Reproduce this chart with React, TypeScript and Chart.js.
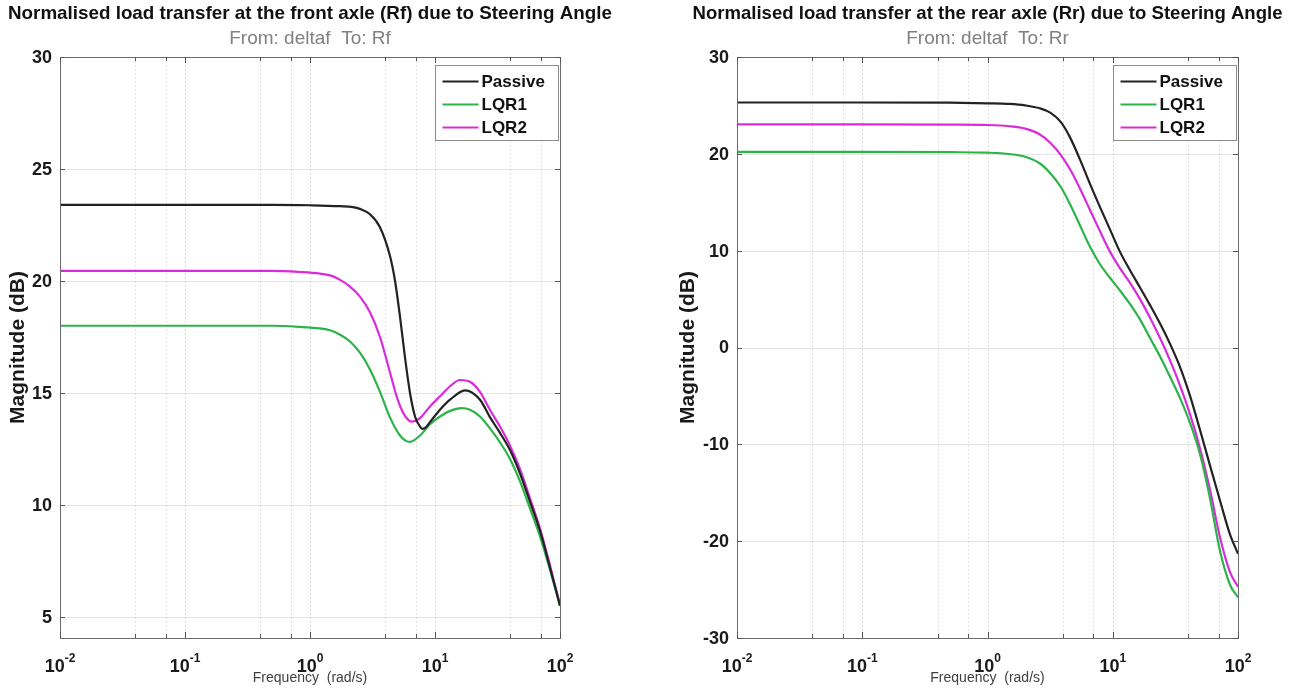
import React, { useEffect, useRef } from "react";
import { Chart, registerables } from "chart.js";

Chart.register(...registerables);

const FONT = '"Liberation Sans", Arial, Helvetica, sans-serif';

const seriesNames = ["Passive", "LQR1", "LQR2"];
const seriesColors = ["#222222", "#2cb34a", "#d92cd9"];

// Front axle (Rf)
const frontPassiveFreq = [0.01, 0.1, 0.5, 1.0, 1.74, 2.21, 2.51, 3.02, 3.63, 4.37, 4.79, 5.25, 5.75, 6.31, 6.92, 7.59, 7.9, 8.4, 9.12, 10.96, 13.2, 17.4, 22.9, 27.5, 33.1, 39.8, 47.9, 57.5, 69.2, 83.2, 100];
const frontPassiveMag = [23.4, 23.4, 23.4, 23.38, 23.34, 23.3, 23.22, 22.98, 22.4, 21.1, 20.0, 18.4, 16.6, 15.0, 13.95, 13.5, 13.4, 13.45, 13.7, 14.25, 14.7, 15.12, 14.7, 13.92, 13.22, 12.45, 11.4, 10.15, 8.85, 7.2, 5.5];
const frontLqr1Freq = [0.01, 0.1, 0.5, 0.83, 1.2, 1.45, 1.74, 2.09, 2.51, 3.02, 3.63, 4.37, 5.25, 5.9, 6.31, 7.59, 9.12, 10.96, 13.2, 16.3, 19.05, 22.9, 27.5, 33.1, 39.8, 47.9, 57.5, 69.2, 83.2, 100];
const frontLqr1Mag = [18.0, 18.0, 18.0, 17.95, 17.88, 17.8, 17.6, 17.3, 16.8, 16.05, 15.05, 13.9, 13.1, 12.85, 12.82, 13.1, 13.6, 13.95, 14.2, 14.32, 14.25, 13.95, 13.42, 12.8, 12.05, 11.05, 9.85, 8.6, 7.1, 5.5];
const frontLqr2Freq = [0.01, 0.1, 0.5, 0.83, 1.2, 1.45, 1.74, 2.09, 2.51, 3.02, 3.63, 4.37, 4.94, 5.58, 6.5, 7.59, 9.12, 10.96, 13.2, 15.85, 19.05, 22.9, 27.5, 33.1, 39.8, 47.9, 57.5, 69.2, 83.2, 100];
const frontLqr2Mag = [20.45, 20.45, 20.45, 20.4, 20.33, 20.25, 20.05, 19.75, 19.3, 18.6, 17.5, 15.9, 14.84, 14.1, 13.72, 13.88, 14.4, 14.85, 15.3, 15.58, 15.5, 15.05, 14.25, 13.5, 12.65, 11.6, 10.3, 8.95, 7.3, 5.55];

// Rear axle (Rr)
const rearFreq = [0.01, 0.1, 0.5, 1.0, 1.5, 2.0, 2.62, 3.17, 3.84, 4.56, 5.48, 6.58, 7.91, 9.5, 11.4, 13.7, 16.5, 19.8, 23.8, 28.6, 34.4, 41.4, 49.7, 59.8, 71.8, 86.3, 100];
const rearPassiveMag = [25.3, 25.3, 25.28, 25.22, 25.15, 25.0, 24.7, 24.25, 23.3, 21.7, 19.4, 16.9, 14.5, 12.2, 9.9, 8.0, 6.2, 4.4, 2.5, 0.4, -2.0, -5.0, -8.5, -12.2, -15.8, -19.3, -21.3];
const rearLqr1Mag = [20.2, 20.2, 20.17, 20.12, 19.98, 19.7, 19.0, 18.0, 16.6, 14.8, 12.6, 10.4, 8.6, 7.2, 5.9, 4.5, 2.9, 1.0, -0.9, -3.0, -5.2, -7.8, -11.0, -15.6, -21.0, -24.5, -25.8];
const rearLqr2Mag = [23.05, 23.05, 23.02, 22.98, 22.85, 22.6, 22.0, 21.15, 19.9, 18.4, 16.4, 14.2, 12.0, 9.9, 8.2, 6.7, 5.0, 3.1, 1.0, -1.3, -3.9, -6.9, -10.4, -14.7, -19.6, -23.2, -24.7];

const frontYTicks = [5, 10, 15, 20, 25, 30];
const rearYTicks = [-30, -20, -10, 0, 10, 20, 30];
const xDecades = [-2, -1, 0, 1, 2];

const frontTitle = "Normalised load transfer at the front axle (Rf) due to Steering Angle";
const frontSubtitle = "From: deltaf  To: Rf";
const rearTitle = "Normalised load transfer at the rear axle (Rr) due to Steering Angle";
const rearSubtitle = "From: deltaf  To: Rr";
const xAxisTitle = "Frequency  (rad/s)";
const yAxisTitle = "Magnitude (dB)";

function toPoints(f: number[], m: number[]) {
  return f.map((v, i) => ({ x: v, y: m[i] }));
}

function xTickValues(): number[] {
  const out: number[] = [];
  for (let e = xDecades[0]; e < xDecades[xDecades.length - 1]; e++) {
    for (let k = 1; k <= 9; k++) out.push(k * Math.pow(10, e));
  }
  out.push(Math.pow(10, xDecades[xDecades.length - 1]));
  return out;
}

function isDecade(v: number) {
  const lg = Math.log10(v);
  return Math.abs(lg - Math.round(lg)) < 1e-6;
}

const decorPlugin = {
  id: "bodeDecor",
  beforeDatasetsDraw(chart: any) {
    const { ctx, chartArea: a, scales } = chart;
    const xs = scales.x;
    const ys = scales.y;
    ctx.save();
    ctx.lineWidth = 1;
    xs.ticks.forEach((t: any) => {
      const px = Math.round(xs.getPixelForValue(t.value)) + 0.5;
      ctx.strokeStyle = isDecade(t.value) ? "rgba(0,0,0,0.14)" : "rgba(0,0,0,0.11)";
      ctx.setLineDash([2, 2]);
      ctx.beginPath();
      ctx.moveTo(px, a.top);
      ctx.lineTo(px, a.bottom);
      ctx.stroke();
    });
    ctx.setLineDash([]);
    ys.ticks.forEach((t: any) => {
      const py = Math.round(ys.getPixelForValue(t.value)) + 0.5;
      ctx.strokeStyle = "rgba(0,0,0,0.10)";
      ctx.beginPath();
      ctx.moveTo(a.left, py);
      ctx.lineTo(a.right, py);
      ctx.stroke();
    });
    ctx.restore();
  },
  afterDraw(chart: any, _a: any, opts: any) {
    const { ctx, chartArea: a, scales } = chart;
    const xs = scales.x;
    const ys = scales.y;
    ctx.save();
    // axes box
    ctx.strokeStyle = "#6b6b6b";
    ctx.lineWidth = 1;
    ctx.strokeRect(Math.round(a.left) + 0.5, Math.round(a.top) + 0.5, Math.round(a.right - a.left), Math.round(a.bottom - a.top));
    // inward tick marks
    ctx.strokeStyle = "#555";
    xs.ticks.forEach((t: any) => {
      const px = Math.round(xs.getPixelForValue(t.value)) + 0.5;
      const len = isDecade(t.value) ? 6 : 4;
      ctx.beginPath();
      ctx.moveTo(px, a.bottom);
      ctx.lineTo(px, a.bottom - len);
      ctx.moveTo(px, a.top);
      ctx.lineTo(px, a.top + len);
      ctx.stroke();
    });
    ys.ticks.forEach((t: any) => {
      const py = Math.round(ys.getPixelForValue(t.value)) + 0.5;
      ctx.beginPath();
      ctx.moveTo(a.left, py);
      ctx.lineTo(a.left + 5, py);
      ctx.moveTo(a.right, py);
      ctx.lineTo(a.right - 5, py);
      ctx.stroke();
    });
    // y tick labels
    ctx.fillStyle = "#1a1a1a";
    ctx.font = `bold 18px ${FONT}`;
    ctx.textAlign = "right";
    ctx.textBaseline = "middle";
    ys.ticks.forEach((t: any) => {
      const py = ys.getPixelForValue(t.value);
      ctx.fillText(String(t.value), a.left - 8, py + 1);
    });
    // x tick labels: 10 with exponent
    ctx.textAlign = "left";
    ctx.textBaseline = "alphabetic";
    xs.ticks.forEach((t: any) => {
      if (!isDecade(t.value)) return;
      const e = String(Math.round(Math.log10(t.value)));
      const px = xs.getPixelForValue(t.value);
      ctx.font = `bold 18px ${FONT}`;
      const wb = ctx.measureText("10").width;
      ctx.font = `bold 12px ${FONT}`;
      const we = ctx.measureText(e).width;
      const start = px - (wb + we) / 2;
      ctx.font = `bold 18px ${FONT}`;
      ctx.fillText("10", start, a.bottom + 34);
      ctx.font = `bold 12px ${FONT}`;
      ctx.fillText(e, start + wb, a.bottom + 24);
    });
    // x axis title
    ctx.textAlign = "center";
    ctx.font = `14px ${FONT}`;
    ctx.fillStyle = "#404040";
    ctx.fillText(opts.xTitle, (a.left + a.right) / 2, a.bottom + 44);
    // y axis title
    ctx.save();
    ctx.translate(opts.yTitleX, (a.top + a.bottom) / 2);
    ctx.rotate(-Math.PI / 2);
    ctx.font = `bold 21px ${FONT}`;
    ctx.fillStyle = "#1a1a1a";
    ctx.textBaseline = "middle";
    ctx.fillText(opts.yTitle, 0, 0);
    ctx.restore();
    // titles
    const cx = (a.left + a.right) / 2;
    ctx.textAlign = "center";
    ctx.textBaseline = "alphabetic";
    ctx.fillStyle = "#111";
    ctx.font = `bold 19px ${FONT}`;
    ctx.fillText(opts.title, cx, 19, opts.titleWidth);
    ctx.fillStyle = "#808080";
    ctx.font = `19px ${FONT}`;
    ctx.fillText(opts.subtitle, cx, 44, opts.subtitleWidth);
    // legend
    const bw = 123;
    const bh = 75;
    const bx = Math.round(a.right - bw - 2) + 0.5;
    const by = Math.round(a.top + 8) + 0.5;
    ctx.fillStyle = "#ffffff";
    ctx.fillRect(bx, by, bw, bh);
    ctx.strokeStyle = "#8c8c8c";
    ctx.lineWidth = 1;
    ctx.strokeRect(bx, by, bw, bh);
    chart.data.datasets.forEach((ds: any, i: number) => {
      const ry = by + 16 + i * 23;
      ctx.strokeStyle = ds.borderColor;
      ctx.lineWidth = 2;
      ctx.beginPath();
      ctx.moveTo(bx + 7, ry);
      ctx.lineTo(bx + 43, ry);
      ctx.stroke();
      ctx.fillStyle = "#111";
      ctx.font = `bold 17px ${FONT}`;
      ctx.textAlign = "left";
      ctx.textBaseline = "middle";
      ctx.fillText(ds.label, bx + 46, ry + 1);
    });
    ctx.restore();
  },
};

type PanelProps = {
  width: number;
  padding: { left: number; right: number; top: number; bottom: number };
  freqs: number[][];
  mags: number[][];
  yMin: number;
  yMax: number;
  yTicks: number[];
  title: string;
  subtitle: string;
  titleWidth: number;
  subtitleWidth: number;
  yTitleX: number;
};

function BodePanel(p: PanelProps) {
  const ref = useRef<HTMLCanvasElement | null>(null);
  useEffect(() => {
    if (!ref.current) return;
    const chart = new Chart(ref.current, {
      type: "line",
      data: {
        datasets: seriesNames.map((name, i) => ({
          label: name,
          data: toPoints(p.freqs[i], p.mags[i]),
          borderColor: seriesColors[i],
          backgroundColor: seriesColors[i],
          borderWidth: 2.2,
          pointRadius: 0,
          cubicInterpolationMode: "monotone" as const,
          fill: false,
        })),
      },
      options: {
        animation: false,
        responsive: false,
        devicePixelRatio: 1,
        layout: { padding: p.padding },
        plugins: {
          legend: { display: false },
          tooltip: { enabled: false },
          title: { display: false },
          bodeDecor: {
            title: p.title,
            subtitle: p.subtitle,
            titleWidth: p.titleWidth,
            subtitleWidth: p.subtitleWidth,
            xTitle: xAxisTitle,
            yTitle: yAxisTitle,
            yTitleX: p.yTitleX,
          },
        } as any,
        scales: {
          x: {
            type: "logarithmic",
            display: false,
            min: 0.01,
            max: 100,
            afterBuildTicks: (s: any) => {
              s.ticks = xTickValues().map((v) => ({ value: v }));
            },
          },
          y: {
            type: "linear",
            display: false,
            min: p.yMin,
            max: p.yMax,
            afterBuildTicks: (s: any) => {
              s.ticks = p.yTicks.map((v) => ({ value: v }));
            },
          },
        },
      },
      plugins: [decorPlugin],
    });
    return () => chart.destroy();
  }, []);
  return (
    <canvas
      ref={ref}
      width={p.width}
      height={688}
      style={{ width: p.width, height: 688, display: "block" }}
    />
  );
}

export default function App() {
  return (
    <div
      style={{
        position: "absolute",
        left: 0,
        top: 0,
        width: 1291,
        height: 688,
        background: "#ffffff",
        display: "flex",
        flexDirection: "row",
      }}
    >
      <BodePanel
        width={645}
        padding={{ left: 60, right: 85, top: 57, bottom: 50 }}
        freqs={[frontPassiveFreq, frontLqr1Freq, frontLqr2Freq]}
        mags={[frontPassiveMag, frontLqr1Mag, frontLqr2Mag]}
        yMin={4.06}
        yMax={30}
        yTicks={frontYTicks}
        title={frontTitle}
        subtitle={frontSubtitle}
        titleWidth={604}
        subtitleWidth={180}
        yTitleX={18}
      />
      <BodePanel
        width={646}
        padding={{ left: 92, right: 53, top: 57, bottom: 50 }}
        freqs={[rearFreq, rearFreq, rearFreq]}
        mags={[rearPassiveMag, rearLqr1Mag, rearLqr2Mag]}
        yMin={-30}
        yMax={30}
        yTicks={rearYTicks}
        title={rearTitle}
        subtitle={rearSubtitle}
        titleWidth={590}
        subtitleWidth={180}
        yTitleX={43}
      />
    </div>
  );
}
